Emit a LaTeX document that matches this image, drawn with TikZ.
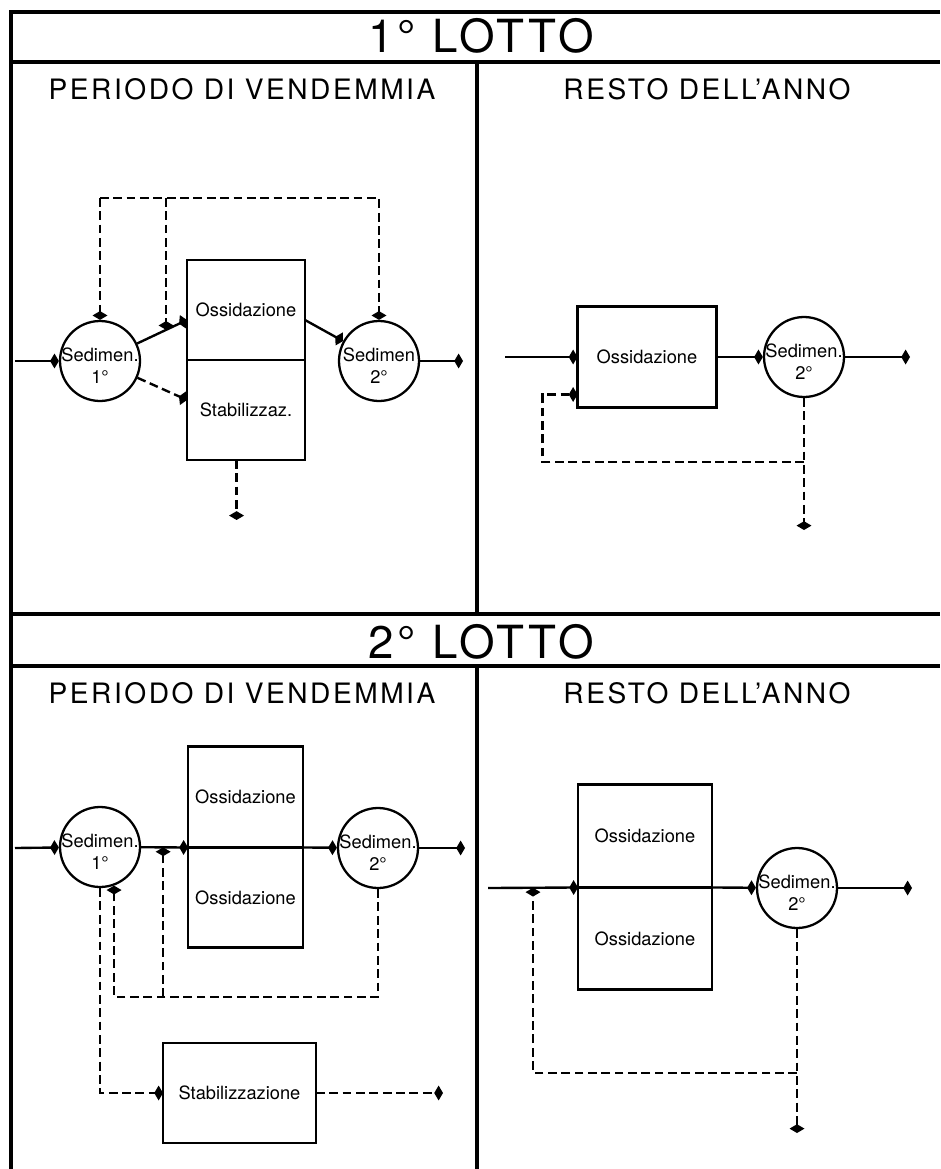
\documentclass[tikz,border=0pt]{standalone}
\usepackage{fontspec}
\setmainfont{TeX Gyre Heros}
\usetikzlibrary{calc,arrows.meta,positioning}
\newcommand{\Titolo}{\fontsize{26}{30}\selectfont\addfontfeatures{LetterSpace=8}}
\newcommand{\Periodo}{\fontsize{16}{19}\selectfont\addfontfeatures{LetterSpace=9}}
\newcommand{\Sedim}[3]{%
  \node[sedim] (#1) at (#2) {};
  \node[sedtxt] (#1t) at ([shift={(0,5)}]#1.center) {#3};}
\begin{document}
\begin{tikzpicture}[x=0.02cm,y=-0.02cm,
  cornice/.style={line width=1.9pt},
  vasca/.style={draw,rectangle,line width=1.6pt,outer sep=0pt,inner sep=0pt,font=\fontsize{10.4}{12}\selectfont},
  sedim/.style={draw,circle,line width=1.3pt,minimum size=1.6cm,inner sep=0pt},
  sedtxt/.style={align=center,inner sep=0pt,font=\fontsize{10.4}{12.5}\selectfont},
  flusso/.style={line width=1.35pt,-{Diamond[length=5pt,width=8.5pt]}},
  flussod/.style={flusso,dash pattern=on 5pt off 2.6pt}]
\useasboundingbox (0,0) rectangle (940,1169);
\draw[cornice] (940,12) -- (11,12) -- (11,1169);
\draw[cornice] (11,62) -- (940,62) (11,614) -- (940,614) (11,666) -- (940,666);
\draw[cornice] (477,62) -- (477,614) (477,666) -- (477,1169);
\node[anchor=base,font=\Titolo] (lotto1) at (481,53) {1° LOTTO};
\node[anchor=base,font=\Periodo] (per1) at (242,100) {PERIODO DI VENDEMMIA};
\node[anchor=base,font=\Periodo] (resto1) at (707,100) {RESTO DELL'ANNO};
\node[anchor=base,font=\Titolo] (lotto2) at (481,658) {2° LOTTO};
\node[anchor=base,font=\Periodo] (per2) at (242,703) {PERIODO DI VENDEMMIA};
\node[anchor=base,font=\Periodo] (resto2) at (707,703) {RESTO DELL'ANNO};

% 1 lotto, vendemmia
\Sedim{s1}{100,361}{Sedimen.\\1°}
\Sedim{s2}{379,361}{Sedimen\\2°}
\node[vasca,minimum width=2.36cm,minimum height=2cm] (ox1) at (246,310) {Ossidazione};
\node[vasca,minimum width=2.36cm,minimum height=2cm,below=0pt of ox1] (st1) {Stabilizzaz.};
\coordinate (e1) at (15,361);
\coordinate (u1) at (463,361);
\coordinate (t1) at (0,198);
\coordinate (a1) at ($(ox1.north west)!0.6!(ox1.south west)$);
\coordinate (b1) at ($(st1.north west)!0.4!(st1.south west)$);
\coordinate (c1) at ($(ox1.north east)!0.6!(ox1.south east)$);
\draw[flusso] (e1) -- (s1);
\draw[flusso] (s1) -- coordinate[pos=0.58] (j1) (a1);
\draw[flussod] (s1) -- (b1);
\draw[flusso] (c1) -- (s2);
\draw[flusso] (s2) -- (u1);
\draw[flussod] (s1.north |- t1) -- (s2.north |- t1) -- (s2);
\draw[flussod] (s1.north |- t1) -- (s1);
\draw[flussod] (j1 |- t1) -- (j1);
\draw[flussod] ($(st1.south west)!0.42!(st1.south east)$) -- ++(0,60);

% 1 lotto, resto dell'anno
\node[vasca,minimum width=2.78cm,minimum height=2.02cm] (ox2) at (647,357) {Ossidazione};
\Sedim{s3}{804,357}{Sedimen.\\2°}
\coordinate (e2) at (505,357);
\coordinate (u2) at (910,357);
\coordinate (k2) at (0,462);
\coordinate (r2) at ($(ox2.south west)+(0,-13)$);
\draw[flusso] (e2) -- (ox2);
\draw[flusso] (ox2) -- (s3);
\draw[flusso] (s3) -- (u2);
\draw[flussod] (s3) -- ++(0,173);
\draw[flussod] (s3.south |- k2) -| ($(r2)+(-35,0)$) -- (r2);

% 2 lotto, vendemmia
\Sedim{s4}{100,847}{Sedimen.\\1°}
\Sedim{s5}{378,848}{Sedimen.\\2°}
\node[vasca,minimum width=2.3cm,minimum height=2.02cm] (ox3) at (245.5,797) {Ossidazione};
\node[vasca,minimum width=2.3cm,minimum height=2cm,below=0pt of ox3] (ox4) {Ossidazione};
\node[vasca,minimum width=3.06cm,minimum height=2cm] (stab) at (239.5,1093) {Stabilizzazione};
\coordinate (e3) at (15,848);
\coordinate (u3) at (465,848);
\coordinate (u4) at (443,1093);
\coordinate (b3) at (0,997);
\draw[flusso] (e3) -- (s4);
\draw[flusso] (s4) -- coordinate[pos=0.47] (j2) (ox3.south west);
\draw[flusso] (ox3.south east) -- (s5);
\draw[flusso] (s5) -- (u3);
\draw[flussod] (s5.south) -- (s5.south |- b3) -- (s4.-70 |- b3) -- (s4.-70);
\draw[flussod] (j2 |- b3) -- (j2);
\draw[flussod] (s4.south) |- (stab.west);
\draw[flussod] (stab) -- (u4);

% 2 lotto, resto dell'anno
\node[vasca,minimum width=2.68cm,minimum height=2.06cm] (ox5) at (645,836) {Ossidazione};
\node[vasca,minimum width=2.68cm,minimum height=2.04cm,below=0pt of ox5] (ox6) {Ossidazione};
\Sedim{s6}{797,888}{Sedimen.\\2°}
\coordinate (e4) at (488,888);
\coordinate (u5) at (912,888);
\coordinate (b5) at (0,1073);
\draw[flusso] (e4) -- coordinate[pos=0.5] (j3) (ox5.south west);
\draw[flusso] (ox5.south east) -- (s6);
\draw[flusso] (s6) -- (u5);
\draw[flussod] (s6) -- ++(0,245);
\draw[flussod] (s6.south |- b5) -- (j3 |- b5) -- (j3);
\end{tikzpicture}
\end{document}
